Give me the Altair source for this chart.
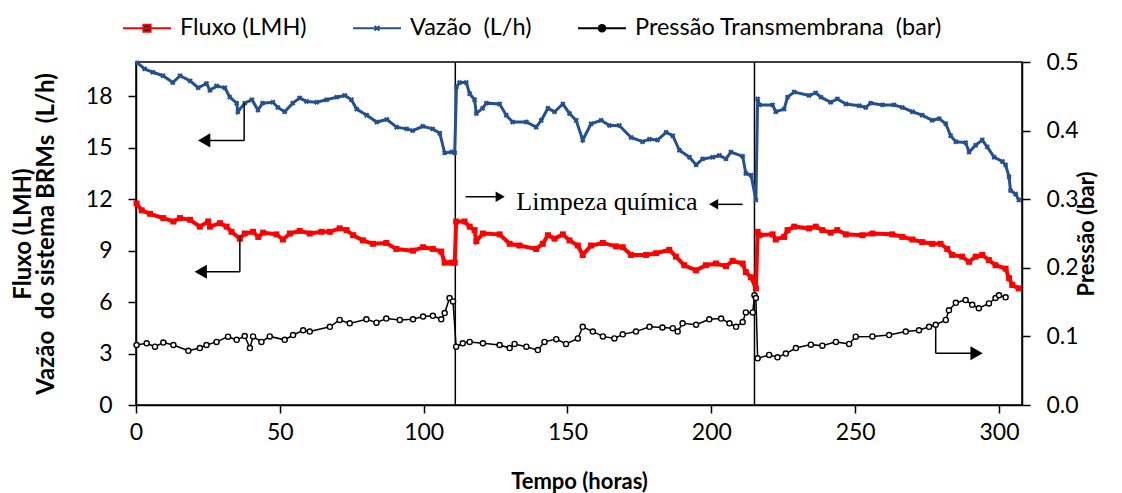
import altair as alt
import pandas as pd

# ---------------- data ----------------
FLUXO_T = [0.2, 2, 4.9, 9.5, 13, 15.3, 18.8, 22.2, 25.1, 25.7, 29.2, 31.5, 33.2, 36.1, 37.8, 40.7, 42.5, 44.2,
           48.8, 51.1, 53.5, 56.9, 60.4, 64.5, 67.4, 70.8, 73.2, 75.5, 78.9, 82.4, 87, 90.5, 96.3, 99.8, 103.2,
           106.1, 107.3, 109.6, 110.8,
           111.3, 114.2, 116, 117.7, 118.3, 120.6, 126.4, 129.9, 133.3, 139.1, 141.4, 143.2, 145.5, 148.4, 150.7,
           153.6, 155.3, 158.2, 162.3, 166.9, 169.2, 172.1, 177.3, 180.8, 185.4, 187.7, 190.6, 194.7, 198.1,
           201.6, 205.1, 207.4, 210.9, 212, 213.8, 215.5,
           216.1, 216.7, 221.3, 222.4, 225.3, 226.5, 228.8, 234, 236.3, 238.6, 241.5, 243.8, 246.8, 252.5, 256,
           262.9, 266.4, 269.9, 273.3, 276.8, 279.7, 282, 283.7, 287.2, 289.6, 291.9, 294.2, 296.5, 298.8, 302.3,
           303.5, 304.6, 306.9]
FLUXO = [11.75, 11.35, 11.15, 10.9, 10.7, 10.9, 10.8, 10.4, 10.7, 10.4, 10.6, 10.4, 10.1, 9.7, 10.0, 10.1, 9.8, 10.05,
         9.95, 9.65, 10.0, 10.15, 10.0, 10.1, 10.1, 10.3, 10.2, 9.9, 9.6, 9.4, 9.45, 9.1, 9.0, 9.2, 9.1,
         8.95, 8.3, 8.3, 8.3,
         10.7, 10.7, 10.4, 10.2, 9.55, 10.0, 9.95, 9.4, 9.3, 9.1, 9.4, 9.9, 9.7, 9.95, 9.6,
         9.3, 8.75, 9.3, 9.45, 9.25, 9.2, 8.75, 8.75, 8.85, 9.05, 8.65, 8.15, 7.85, 8.15,
         8.25, 8.1, 8.4, 8.25, 7.75, 7.45, 6.8,
         10.1, 9.9, 9.95, 9.65, 9.8, 10.2, 10.4, 10.3, 10.4, 10.2, 10.05, 10.2, 9.95, 9.9, 10.0,
         9.95, 9.8, 9.65, 9.5, 9.4, 9.4, 9.1, 8.75, 8.65, 8.35, 8.65, 8.75, 8.45, 8.15, 7.95,
         7.4, 7.0, 6.8]

VAZAO_T = [0.5, 3, 5.9, 9.4, 12.8, 15.3, 18.8, 21.6, 24.5, 25.7, 28, 30.9, 32.6, 35, 35.4, 37.8, 40.3, 42.4, 44,
           47.6, 49.3, 51.7, 54.5, 56.9, 59.3, 62.8, 66.3, 69.8, 72.6, 74.9, 76.7, 80.2, 83.7, 87.2, 90.6, 94.1,
           96.2, 99.7, 103.1, 105.6, 107.3, 109.7, 110.8,
           111.4, 112.5, 114.8, 116, 117.7, 118.3, 120.5, 121.8, 126.4, 128.7, 130.9, 135.7, 139.1, 140.9, 143.2,
           145.5, 148.4, 150.7, 153, 155.3, 158.2, 161.7, 164.6, 168, 172.1, 176.1, 178.5, 181.3, 184.3, 186.6,
           188.9, 192.4, 194.7, 197, 200.5, 202.8, 205.1, 206.8, 210.9, 212, 213.8, 215.5,
           216.1, 216.7, 221.3, 222.4, 225.3, 226.5, 228.8, 234, 236.3, 238.1, 241.5, 243.8, 246.8, 251.4, 253.7,
           255.4, 259.5, 263.5, 266.4, 269.9, 273.3, 276.8, 279.2, 281.5, 283.2, 285, 288.4, 289.6, 291.9, 294.2,
           295.9, 298.3, 301.2, 302.3, 303.5, 304, 305.8, 306.9]
VAZAO = [19.95, 19.6, 19.4, 19.2, 18.8, 19.2, 18.9, 18.5, 18.75, 18.35, 18.6, 18.5, 17.95, 17.6, 17.1, 17.6, 17.8,
         17.2, 17.6, 17.65, 17.35, 17.1, 17.6, 17.9, 17.7, 17.65, 17.8, 17.95, 18.05, 17.8, 17.25, 16.9, 16.5,
         16.65, 16.2, 16.1, 16.0, 16.25, 16.1, 15.85, 14.7, 14.75, 14.7,
         18.55, 18.8, 18.8, 18.15, 17.8, 17.0, 17.3, 17.6, 17.55, 16.9, 16.5, 16.5, 16.2, 16.6, 17.3,
         17.1, 17.55, 17.0, 16.6, 15.45, 16.4, 16.6, 16.3, 16.3, 15.6, 15.35, 15.5, 15.45, 15.9, 15.7,
         14.85, 14.45, 14.0, 14.35, 14.45, 14.55, 14.35, 14.75, 14.5, 13.5, 13.4, 11.95,
         17.85, 17.5, 17.5, 17.1, 17.25, 17.95, 18.25, 18.05, 18.2, 17.95, 17.65, 17.85, 17.55, 17.45, 17.35,
         17.6, 17.5, 17.5, 17.35, 17.1, 16.9, 16.6, 16.7, 16.4, 15.7, 15.35, 15.3, 14.75, 15.15, 15.45,
         15.05, 14.45, 14.2, 14.0, 13.3, 12.5, 12.3, 11.95]

PRESSAO_T = [0.2, 3.7, 6.6, 9.5, 13, 18.2, 22.2, 24.5, 28, 32, 35, 37.8, 39.6, 40.7, 43.6, 46.5, 51.7, 54.6, 58.1,
             60.4, 67.4, 70.8, 74.3, 80.1, 83.6, 87, 91.7, 96.3, 99.8, 103.2, 106.1, 107.3, 109, 110.2,
             111.3, 113.6, 116, 120.6, 126.4, 129.9, 131.6, 135.7, 139.7, 142, 146.1, 149.5, 153.6, 155.3, 158.8,
             162.3, 166.3, 169.2, 173.8, 178.5, 183, 186.6, 188.3, 190, 194.7, 199.3, 203.4, 206.3, 208.6, 210.9,
             212, 214.4, 215, 215.5,
             216.1, 220.1, 223, 225.9, 229.4, 234.6, 238.6, 243.3, 247.9, 250.2, 256, 261.8, 267.6, 272.2, 275.7,
             278, 281.5, 282.6, 285, 288.4, 290.7, 293, 296.5, 298.8, 300, 302.3]
PRESSAO = [0.0875, 0.09, 0.085, 0.091, 0.0875, 0.079, 0.083, 0.0875, 0.092, 0.0996, 0.095, 0.1006, 0.083, 0.1, 0.092,
           0.1, 0.095, 0.102, 0.109, 0.107, 0.114, 0.124, 0.119, 0.125, 0.12, 0.126, 0.124, 0.125, 0.129, 0.13,
           0.125, 0.134, 0.156, 0.151,
           0.085, 0.09, 0.092, 0.09, 0.0875, 0.083, 0.089, 0.085, 0.08, 0.092, 0.096, 0.089, 0.097, 0.114, 0.107,
           0.1, 0.097, 0.103, 0.107, 0.114, 0.113, 0.112, 0.107, 0.119, 0.117, 0.125, 0.126, 0.119, 0.114, 0.121,
           0.135, 0.135, 0.16, 0.156,
           0.068, 0.073, 0.0695, 0.075, 0.083, 0.088, 0.0865, 0.092, 0.089, 0.0996, 0.1, 0.102, 0.107, 0.109, 0.114,
           0.117, 0.124, 0.138, 0.149, 0.153, 0.146, 0.141, 0.148, 0.156, 0.16, 0.157]

CLEANING_T = [111, 215]

SERIES = ["Fluxo (LMH)", "Vazão \u00a0(L/h)", "Pressão Transmembrana \u00a0(bar)"]
COLORS = ["#FF0000", "#24508F", "#000000"]

X_TICKS = [0, 50, 100, 150, 200, 250, 300]
Y_LEFT_TICKS = [0, 3, 6, 9, 12, 15, 18]
Y_RIGHT_TICKS = [0.0, 0.1, 0.2, 0.3, 0.4, 0.5]
LEFT_TITLE = ["Fluxo (LMH)", "Vazão \u00a0do sistema BRMs \u00a0(L/h)"]
RIGHT_TITLE = "Pressão (bar)"
X_TITLE = "Tempo (horas)"

# annotation arrows (data units, left axis)
ARROW_X1 = [37.6, 37.6, 36.1, 36.1, 278, 278, 114.6, 210.9]
ARROW_Y1 = [17.6, 15.43, 9.9, 7.77, 4.56, 3.02, 12.14, 11.7]
ARROW_X2 = [37.6, 23.7, 36.1, 22.5, 278, 292.2, 126.6, 200.8]
ARROW_Y2 = [15.43, 15.43, 7.77, 7.77, 3.02, 3.02, 12.14, 11.7]
HEAD_T = [23.7, 22.5, 292.2]
HEAD_V = [15.43, 7.77, 3.02]
HEAD_DIR = ["triangle-left", "triangle-left", "triangle-right"]
SMALL_HEAD_T = [126.6, 200.8]
SMALL_HEAD_V = [12.14, 11.7]
SMALL_HEAD_DIR = ["triangle-right", "triangle-left"]
NOTE_T = [163.7]
NOTE_V = [11.84]
NOTE_TEXT = ["Limpeza química"]

# legend symbols: line segment + marker
LEGEND_PATHS = [
    "M-1,0H1M-0.15,-0.15H0.15V0.15H-0.15Z",
    "M-1,0H1M-0.1,-0.1L0.1,0.1M-0.1,0.1L0.1,-0.1",
    "M-1,0H-0.14M0.14,0H1M-0.14,0A0.14,0.14 0 1,0 0.14,0A0.14,0.14 0 1,0 -0.14,0",
]

# ---------------- frames ----------------
fluxo_df = pd.DataFrame({"t": FLUXO_T, "v": FLUXO})
vazao_df = pd.DataFrame({"t": VAZAO_T, "v": VAZAO})
press_df = pd.DataFrame({"t": PRESSAO_T, "p": PRESSAO})
clean_df = pd.DataFrame({"t": CLEANING_T})
seg_df = pd.DataFrame({"x1": ARROW_X1, "y1": ARROW_Y1, "x2": ARROW_X2, "y2": ARROW_Y2})
head_df = pd.DataFrame({"t": HEAD_T, "v": HEAD_V, "d": HEAD_DIR})
shead_df = pd.DataFrame({"t": SMALL_HEAD_T, "v": SMALL_HEAD_V, "d": SMALL_HEAD_DIR})
note_df = pd.DataFrame({"t": NOTE_T, "v": NOTE_V, "label": NOTE_TEXT})
legend_df = pd.DataFrame({"series": SERIES})

FONT = "Lato"

XS = alt.Scale(domain=[0, 308], nice=False, zero=False)
XAX = alt.Axis(values=X_TICKS, title=X_TITLE, labelFlush=False, labelPadding=8,
               titlePadding=27, tickSize=8)
YLS = alt.Scale(domain=[0, 20], nice=False)
YLAX = alt.Axis(values=Y_LEFT_TICKS, title=LEFT_TITLE, titleFontSize=24,
                titleLineHeight=23, labelPadding=16, titlePadding=27, tickSize=8)
YRS = alt.Scale(domain=[0, 0.5], nice=False)
YRAX = alt.Axis(values=Y_RIGHT_TICKS, format=".1f", title=RIGHT_TITLE, orient="right",
                titleAngle=270, labelPadding=16, titlePadding=20, tickSize=8)


def xe(f):
    return alt.X(f, type="quantitative", scale=XS, axis=XAX)


def ye(f):
    return alt.Y(f, type="quantitative", scale=YLS, axis=YLAX)


def yr(f):
    return alt.Y(f, type="quantitative", scale=YRS, axis=YRAX)


vaz_line = alt.Chart(vazao_df).mark_line(color=COLORS[1], strokeWidth=3).encode(x=xe("t"), y=ye("v"))
vaz_pts = alt.Chart(vazao_df).mark_point(shape="cross", angle=45, filled=True, size=30,
                                          color=COLORS[1], opacity=1).encode(x=xe("t"), y=ye("v"))
flu_line = alt.Chart(fluxo_df).mark_line(color=COLORS[0], strokeWidth=4).encode(x=xe("t"), y=ye("v"))
flu_pts = alt.Chart(fluxo_df).mark_point(shape="square", filled=True, size=36,
                                         color=COLORS[0], opacity=1).encode(x=xe("t"), y=ye("v"))

clean_rules = alt.Chart(clean_df).mark_rule(color="black", strokeWidth=1.5).encode(
    x=xe("t"), y=alt.datum(0), y2=alt.datum(20))
segs = alt.Chart(seg_df).mark_rule(color="black", strokeWidth=1.5).encode(
    x=xe("x1"), y=ye("y1"), x2="x2:Q", y2="y2:Q")
heads = alt.Chart(head_df).mark_point(filled=True, color="black", size=200, opacity=1).encode(
    x=xe("t"), y=ye("v"), shape=alt.Shape("d:N", scale=None))
sheads = alt.Chart(shead_df).mark_point(filled=True, color="black", size=110, opacity=1).encode(
    x=xe("t"), y=ye("v"), shape=alt.Shape("d:N", scale=None))
note = alt.Chart(note_df).mark_text(font="Liberation Serif", fontSize=26, color="black",
                                    baseline="middle", align="center").encode(
    x=xe("t"), y=ye("v"), text="label:N")

LEG = alt.Legend(title=None, orient="none", legendX=-14, legendY=-59, direction="horizontal",
                 labelLimit=600, symbolSize=2304, symbolStrokeWidth=2, labelOffset=8,
                 columnPadding=42, symbolOffset=0, padding=0, labelFont=FONT, labelFontSize=23.5,
                 labelColor="black")
legend_layer = alt.Chart(legend_df).mark_point(filled=False, size=2304, clip=True, strokeWidth=2).encode(
    x=alt.value(-600), y=alt.value(-600),
    color=alt.Color("series:N", scale=alt.Scale(domain=SERIES, range=COLORS), legend=LEG),
    shape=alt.Shape("series:N", scale=alt.Scale(domain=SERIES, range=LEGEND_PATHS), legend=LEG),
)

left = alt.layer(clean_rules, vaz_line, vaz_pts, flu_line, flu_pts, segs, heads, sheads, note, legend_layer)

pr_line = alt.Chart(press_df).mark_line(color="black", strokeWidth=1.5).encode(x=xe("t"), y=yr("p"))
pr_pts = alt.Chart(press_df).mark_point(shape="circle", filled=False, fill="white", stroke="black",
                                        strokeWidth=1.4, size=26, opacity=1).encode(x=xe("t"), y=yr("p"))
right = alt.layer(pr_line, pr_pts)

chart = alt.layer(left, right).resolve_scale(y="independent").properties(
    width=886, height=343,
    autosize=alt.AutoSizeParams(type="none"),
    padding={"left": 128, "top": 54, "right": 92, "bottom": 88},
).configure_view(stroke="black", strokeWidth=1.5).configure_axis(
    labelFont=FONT, labelFontSize=23, labelColor="black",
    titleFont=FONT, titleFontSize=22, titleFontWeight="bold", titleColor="black",
    domainColor="black", domainWidth=1.5, tickColor="black", tickWidth=1.5, grid=False,
)

chart.save("out.html", embed_options={"renderer": "svg", "actions": False})
